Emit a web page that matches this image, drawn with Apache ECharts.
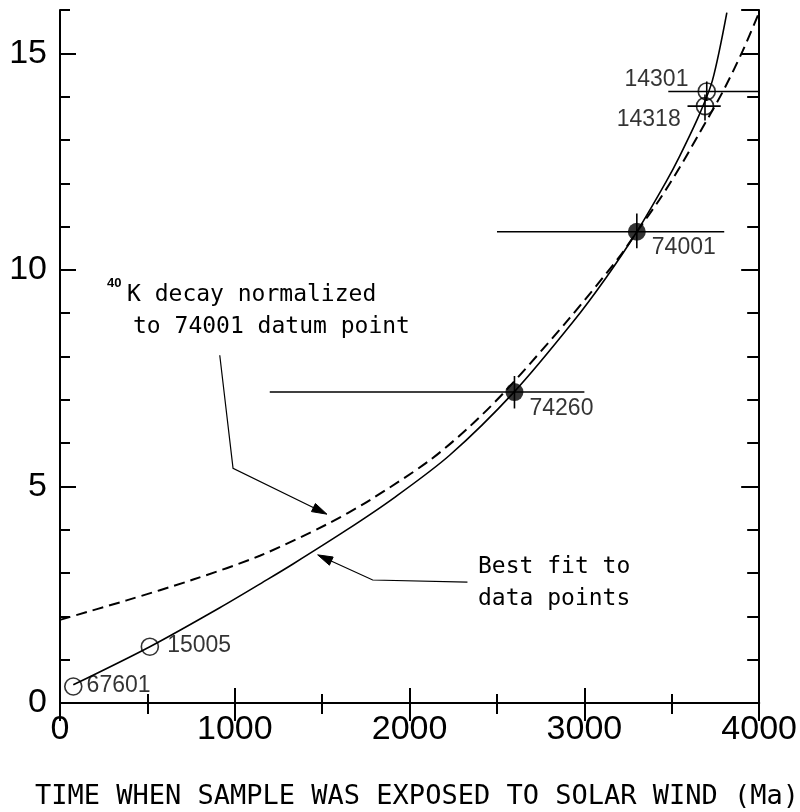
<!DOCTYPE html>
<html>
<head>
<meta charset="utf-8">
<script src="https://cdn.jsdelivr.net/npm/echarts@6/dist/echarts.min.js"></script>
<style>
html,body{margin:0;padding:0;background:#fff;}
#chart{width:800px;height:812px;}
</style>
</head>
<body>
<div id="chart"></div>
<script>
// ---- data ----
const xTickLabels = [0, 1000, 2000, 3000, 4000];
const yTickLabels = [0, 5, 10, 15];

// best fit to data points (solid)
const bestFitX = [76, 514, 914, 1190, 1333, 1638, 1905, 2229, 2600, 2933, 3124, 3300, 3467, 3543, 3657, 3733, 3815];
const bestFitY = [0.42, 1.30, 2.20, 2.86, 3.21, 3.99, 4.72, 5.72, 7.19, 8.79, 9.82, 10.88, 12.03, 12.61, 13.58, 14.38, 15.94];

// 40K decay normalized to 74001 (dashed)
const decayX = [0, 381, 762, 1143, 1524, 1771, 2114, 2343, 2552, 2914, 3200, 3300, 3429, 3543, 3650, 3790, 3905, 4000];
const decayY = [1.92, 2.37, 2.85, 3.40, 4.12, 4.68, 5.60, 6.38, 7.22, 8.88, 10.30, 10.88, 11.62, 12.35, 13.10, 14.10, 15.05, 15.95];

// samples
const openNames = ['67601', '15005', '14301', '14318'];
const openX = [76, 514, 3700, 3690];
const openY = [0.38, 1.30, 14.12, 13.78];

const filledNames = ['74260', '74001'];
const filledX = [2600, 3300];
const filledY = [7.18, 10.88];

// error bars
const errNames = ['74260', '74001', '14301', '14318'];
const errX = [2600, 3300, 3700, 3690];
const errY = [7.18, 10.88, 14.12, 13.78];
const errXLow = [1200, 2500, 3480, 3590];
const errXHigh = [3000, 3800, 4000, 3780];
const errYLow = [6.8, 10.5, 13.9, 13.45];
const errYHigh = [7.55, 11.3, 14.35, 14.05];

// annotation leader lines (data coordinates)
const decayArrowX = [914, 990, 1527];
const decayArrowY = [8.03, 5.42, 4.36];
const fitArrowX = [2331, 1789, 1474];
const fitArrowY = [2.79, 2.84, 3.42];

// ---- build ----
const chart = echarts.init(document.getElementById('chart'), null, {renderer: 'canvas'});
const BLK = '#000';
const labelFont = '"Liberation Sans", Arial, sans-serif';
const monoFont = '"DejaVu Sans Mono", "Liberation Mono", monospace';

const zip = (xs, ys) => xs.map((x, i) => [x, ys[i]]);
const leaders = [zip(decayArrowX, decayArrowY), zip(fitArrowX, fitArrowY)];

const labelCfg = {
  '67601': {position: 'right', distance: 4, offset: [0, -1]},
  '15005': {position: 'right', distance: 8, offset: [0, -1]},
  '14301': {position: 'left', distance: 9, offset: [0, -12]},
  '14318': {position: 'left', distance: 15, offset: [0, 14]},
  '74260': {position: 'right', distance: 6, offset: [0, 17]},
  '74001': {position: 'right', distance: 6, offset: [0, 16]}
};

function pointData(names, xs, ys) {
  return names.map((n, i) => ({
    name: n,
    value: [xs[i], ys[i]],
    label: Object.assign({show: true, formatter: n, color: BLK, fontSize: 23, fontFamily: labelFont,
      textBorderWidth: 0}, labelCfg[n])
  }));
}

const axisLine = {show: true, lineStyle: {color: BLK, width: 2}};
const noLine = {show: false};

const option = {
  backgroundColor: '#fff',
  animation: false,
  grid: {left: 60, right: 40, top: 10, bottom: 109},
  xAxis: [
    {
      type: 'value', position: 'bottom', min: 0, max: 4000, interval: 1000,
      axisLine: axisLine,
      axisTick: {show: true, inside: true, length: 15, lineStyle: {color: BLK, width: 2}},
      minorTick: {show: true, splitNumber: 2, length: 9, lineStyle: {color: BLK, width: 2}},
      splitLine: {show: false}, minorSplitLine: {show: false},
      axisLabel: {
        color: BLK, fontSize: 34, fontFamily: labelFont, margin: 10,
        formatter: v => (xTickLabels.indexOf(v) >= 0 ? String(v) : '')
      }
    },
    {
      type: 'value', position: 'top', min: 0, max: 4000, interval: 1000,
      axisLine: axisLine,
      axisTick: {show: true, inside: true, length: 18, lineStyle: {color: BLK, width: 2}},
      minorTick: {show: true, splitNumber: 2, length: 11, lineStyle: {color: BLK, width: 2}},
      splitLine: {show: false}, minorSplitLine: {show: false},
      axisLabel: {show: false}
    }
  ],
  yAxis: [
    {
      type: 'value', position: 'left', min: 0, max: 16, interval: 5,
      axisLine: axisLine,
      axisTick: {show: true, inside: true, length: 16, lineStyle: {color: BLK, width: 2}},
      splitLine: {show: false},
      axisLabel: {
        color: BLK, fontSize: 34, fontFamily: labelFont, margin: 13, showMaxLabel: false,
        formatter: v => (yTickLabels.indexOf(v) >= 0 ? String(v) : '')
      }
    },
    {
      type: 'value', position: 'left', min: 0, max: 16, interval: 1,
      axisLine: noLine,
      axisTick: {show: true, inside: true, length: 10, lineStyle: {color: BLK, width: 2}},
      splitLine: {show: false}, axisLabel: {show: false}
    },
    {
      type: 'value', position: 'right', min: 0, max: 16, interval: 5,
      axisLine: axisLine,
      axisTick: {show: true, inside: true, length: 18, lineStyle: {color: BLK, width: 2}},
      splitLine: {show: false}, axisLabel: {show: false}
    },
    {
      type: 'value', position: 'right', min: 0, max: 16, interval: 1,
      axisLine: noLine,
      axisTick: {show: true, inside: true, length: 12, lineStyle: {color: BLK, width: 2}},
      splitLine: {show: false}, axisLabel: {show: false}
    }
  ],
  series: [
    {
      name: 'Best fit', type: 'line', xAxisIndex: 0, yAxisIndex: 0,
      data: zip(bestFitX, bestFitY), smooth: 0.3,
      showSymbol: false, symbol: 'none',
      lineStyle: {color: BLK, width: 1.6}, z: 2
    },
    {
      name: '40K decay', type: 'line', xAxisIndex: 0, yAxisIndex: 0,
      data: zip(decayX, decayY), smooth: 0.3,
      showSymbol: false, symbol: 'none',
      lineStyle: {color: BLK, width: 2, type: [11, 6]}, z: 2
    },
    {
      name: 'error bars', type: 'custom', xAxisIndex: 0, yAxisIndex: 0,
      data: errNames.map((n, i) => [errX[i], errY[i], errXLow[i], errXHigh[i], errYLow[i], errYHigh[i]]),
      encode: {x: 0, y: 1},
      renderItem: function (params, api) {
        const y = api.value(1), x = api.value(0);
        const a = api.coord([api.value(2), y]);
        const b = api.coord([api.value(3), y]);
        const c = api.coord([x, api.value(4)]);
        const d = api.coord([x, api.value(5)]);
        const st = {stroke: BLK, lineWidth: 1.6};
        return {
          type: 'group',
          children: [
            {type: 'line', shape: {x1: a[0], y1: a[1], x2: b[0], y2: b[1]}, style: st},
            {type: 'line', shape: {x1: c[0], y1: c[1], x2: d[0], y2: d[1]}, style: st}
          ]
        };
      },
      z: 4
    },
    {
      name: 'open samples', type: 'scatter', xAxisIndex: 0, yAxisIndex: 0,
      data: pointData(openNames, openX, openY),
      symbol: 'circle', symbolSize: 17,
      itemStyle: {color: 'rgba(0,0,0,0)', borderColor: BLK, borderWidth: 1.6},
      z: 5
    },
    {
      name: 'filled samples', type: 'scatter', xAxisIndex: 0, yAxisIndex: 0,
      data: pointData(filledNames, filledX, filledY),
      symbol: 'circle', symbolSize: 18,
      itemStyle: {color: BLK},
      z: 5
    },
    {
      name: 'leaders', type: 'custom', xAxisIndex: 0, yAxisIndex: 0,
      data: leaders.map((pts, i) => [pts[pts.length - 1][0], pts[pts.length - 1][1], i]),
      encode: {x: 0, y: 1},
      renderItem: function (params, api) {
        const pts = leaders[api.value(2)].map(p => api.coord(p));
        const n = pts.length;
        const tip = pts[n - 1], prev = pts[n - 2];
        const dx = tip[0] - prev[0], dy = tip[1] - prev[1];
        const len = Math.sqrt(dx * dx + dy * dy);
        const ux = dx / len, uy = dy / len;
        const L = 15, W = 4.5;
        const bx = tip[0] - ux * L, by = tip[1] - uy * L;
        return {
          type: 'group',
          children: [
            {type: 'polyline', shape: {points: pts.slice(0, n - 1).concat([[bx + ux * 2, by + uy * 2]])},
              style: {stroke: BLK, lineWidth: 1.2, fill: null}},
            {type: 'polygon', shape: {points: [tip, [bx - uy * W, by + ux * W], [bx + uy * W, by - ux * W]]},
              style: {fill: BLK, stroke: BLK, lineWidth: 1}}
          ]
        };
      },
      z: 3
    }
  ],
  graphic: [
    {type: 'text', x: 107, y: 283, style: {text: '40', fill: BLK, font: 'bold 13px ' + labelFont, textAlign: 'left', textVerticalAlign: 'middle'}},
    {type: 'text', x: 127, y: 295, style: {text: 'K decay normalized', fill: BLK, font: '23px ' + monoFont, textAlign: 'left', textVerticalAlign: 'middle'}},
    {type: 'text', x: 133, y: 327, style: {text: 'to 74001 datum point', fill: BLK, font: '23px ' + monoFont, textAlign: 'left', textVerticalAlign: 'middle'}},
    {type: 'text', x: 478, y: 567, style: {text: 'Best fit to', fill: BLK, font: '23px ' + monoFont, textAlign: 'left', textVerticalAlign: 'middle'}},
    {type: 'text', x: 478, y: 599, style: {text: 'data points', fill: BLK, font: '23px ' + monoFont, textAlign: 'left', textVerticalAlign: 'middle'}},
    {type: 'text', x: 417, y: 797, style: {text: 'TIME WHEN SAMPLE WAS EXPOSED TO SOLAR WIND (Ma)', fill: BLK, font: '27px ' + monoFont, textAlign: 'center', textVerticalAlign: 'middle'}}
  ]
};
chart.setOption(option);
</script>
</body>
</html>
